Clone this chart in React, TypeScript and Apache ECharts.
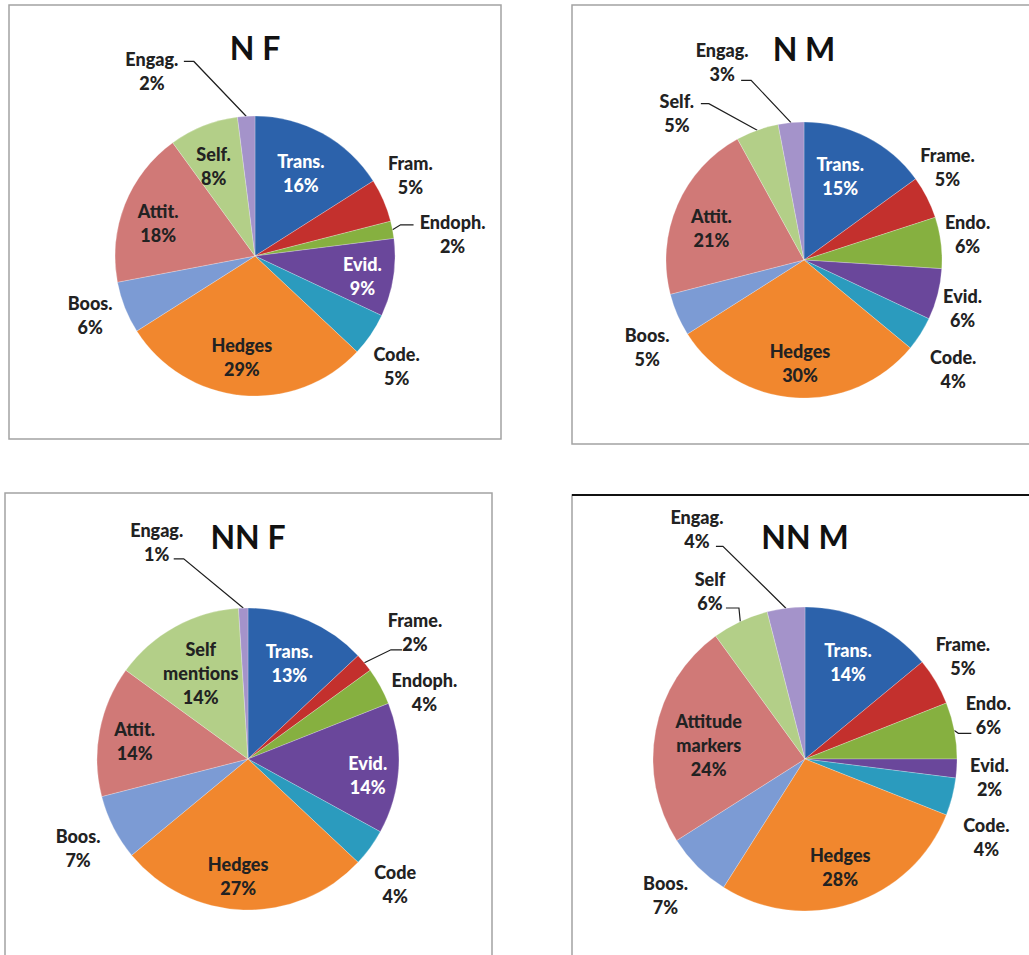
import React, { useEffect, useRef } from "react";
import * as echarts from "echarts";

// ---- Data ----
const titles = ["N F", "N M", "NN F", "NN M"];

const categoriesNF = ["Trans.", "Fram.", "Endoph.", "Evid.", "Code.", "Hedges", "Boos.", "Attit.", "Self.", "Engag."];
const valuesNF = [16, 5, 2, 9, 5, 29, 6, 18, 8, 2];

const categoriesNM = ["Trans.", "Frame.", "Endo.", "Evid.", "Code.", "Hedges", "Boos.", "Attit.", "Self.", "Engag."];
const valuesNM = [15, 5, 6, 6, 4, 30, 5, 21, 5, 3];

const categoriesNNF = ["Trans.", "Frame.", "Endoph.", "Evid.", "Code", "Hedges", "Boos.", "Attit.", "Self\nmentions", "Engag."];
const valuesNNF = [13, 2, 4, 14, 4, 27, 7, 14, 14, 1];

const categoriesNNM = ["Trans.", "Frame.", "Endo.", "Evid.", "Code.", "Hedges", "Boos.", "Attitude\nmarkers", "Self", "Engag."];
const valuesNNM = [14, 5, 6, 2, 4, 28, 7, 24, 6, 4];

// ---- Styles ----
const sliceColors = [
  "#2C62AB", // Trans
  "#C3302D", // Frame
  "#86B040", // Endo
  "#6A479B", // Evid
  "#2B9BBE", // Code
  "#F1872E", // Hedges
  "#7C9BD4", // Boos
  "#D07977", // Attit
  "#B3CF88", // Self
  "#A493CA", // Engag
];

type Place = { pos: "in" | "out" | "line"; rf: number; da: number; white?: boolean; end?: [number, number]; el?: number };

const placeNF: Place[] = [
  { pos: "in", rf: 0.68, da: 0, white: true },
  { pos: "out", rf: 1.25, da: -4 },
  { pos: "line", rf: 1.42, da: 4.4, end: [-39, -9], el: -13 },
  { pos: "in", rf: 0.78, da: 1.5, white: true },
  { pos: "out", rf: 1.28, da: 3.6 },
  { pos: "in", rf: 0.73, da: 2 },
  { pos: "out", rf: 1.25, da: 2 },
  { pos: "in", rf: 0.73, da: -3 },
  { pos: "in", rf: 0.71, da: -3 },
  { pos: "line", rf: 1.51, da: -25.6, end: [32, -10], el: 10 },
];
const placeNM: Place[] = [
  { pos: "in", rf: 0.66, da: -3.6, white: true },
  { pos: "out", rf: 1.24, da: -6 },
  { pos: "out", rf: 1.2, da: -1.8 },
  { pos: "out", rf: 1.2, da: 2.4 },
  { pos: "out", rf: 1.34, da: 3.8 },
  { pos: "in", rf: 0.75, da: -1.4 },
  { pos: "out", rf: 1.3, da: -5.6 },
  { pos: "in", rf: 0.71, da: -4.2 },
  { pos: "line", rf: 1.41, da: -21, end: [24, -9], el: 8 },
  { pos: "line", rf: 1.55, da: -17.1, end: [19, 18], el: 10 },
];
const placeNNF: Place[] = [
  { pos: "in", rf: 0.69, da: 0, white: true },
  { pos: "line", rf: 1.39, da: 2.3, end: [-13, 18], el: -11 },
  { pos: "out", rf: 1.25, da: 8 },
  { pos: "in", rf: 0.8, da: 4, white: true },
  { pos: "out", rf: 1.28, da: 4.4 },
  { pos: "in", rf: 0.78, da: 3 },
  { pos: "out", rf: 1.27, da: -0.6 },
  { pos: "in", rf: 0.76, da: -1.8 },
  { pos: "in", rf: 0.65, da: 0 },
  { pos: "line", rf: 1.56, da: -21, end: [17, 17], el: 10 },
];
const placeNNM: Place[] = [
  { pos: "in", rf: 0.7, da: -1.3, white: true },
  { pos: "out", rf: 1.24, da: -2.5 },
  { pos: "line", rf: 1.24, da: -2.6, end: [-17, 18], el: -13 },
  { pos: "out", rf: 1.22, da: 2 },
  { pos: "out", rf: 1.3, da: 9 },
  { pos: "in", rf: 0.75, da: 0 },
  { pos: "out", rf: 1.28, da: 0.8 },
  { pos: "in", rf: 0.64, da: -2.6 },
  { pos: "line", rf: 1.27, da: -4.3, end: [16, 17], el: 13 },
  { pos: "line", rf: 1.67, da: -18, end: [19, 17], el: 7 },
];

const panels = [
  { cats: categoriesNF, vals: valuesNF, place: placeNF, cx: 255, cy: 256, r: 140, titleY: 47, box: [9, 5, 492, 434] },
  { cats: categoriesNM, vals: valuesNM, place: placeNM, cx: 804, cy: 260, r: 138, titleY: 48, box: [572, 5, 470, 439] },
  { cats: categoriesNNF, vals: valuesNNF, place: placeNNF, cx: 248, cy: 759, r: 151, titleY: 536, box: [5, 493, 487, 480] },
  { cats: categoriesNNM, vals: valuesNNM, place: placeNNM, cx: 805, cy: 759, r: 152, titleY: 536, box: [572, 495, 470, 480] },
];

const FONT = "Lato, 'Open Sans', sans-serif";

function makeLayout(values: number[], place: Place[], cx: number, cy: number, r: number) {
  const total = values.reduce((a, b) => a + b, 0);
  const mids: number[] = [];
  let acc = 0;
  values.forEach((v) => {
    mids.push(((acc + v / 2) / total) * 360);
    acc += v;
  });
  return (params: any) => {
    const i = params.dataIndex;
    const p = place[i];
    const mid = mids[i];
    const a = ((mid + p.da) * Math.PI) / 180;
    const x = cx + p.rf * r * Math.sin(a);
    const y = cy - p.rf * r * Math.cos(a);
    const res: any = { x, y, align: "center", verticalAlign: "middle" };
    if (p.pos === "line" && p.end) {
      const m = (mid * Math.PI) / 180;
      const ex = x + p.end[0];
      const ey = y + p.end[1];
      res.labelLinePoints = [
        [cx + r * Math.sin(m), cy - r * Math.cos(m)],
        [ex + (p.el || 0), ey],
        [ex, ey],
      ];
    }
    return res;
  };
}

export default function App() {
  const ref = useRef<HTMLDivElement>(null);
  useEffect(() => {
    if (!ref.current) return;
    const chart = echarts.init(ref.current, undefined, { renderer: "svg" });

    const series = panels.map((pn) => ({
      type: "pie",
      center: [pn.cx, pn.cy],
      radius: pn.r,
      startAngle: 90,
      clockwise: true,
      avoidLabelOverlap: false,
      silent: true,
      itemStyle: { borderColor: "rgba(255,255,255,0.3)", borderWidth: 0.8 },
      labelLayout: makeLayout(pn.vals, pn.place, pn.cx, pn.cy, pn.r),
      data: pn.vals.map((v, i) => {
        const p = pn.place[i];
        return {
          value: v,
          name: pn.cats[i],
          itemStyle: { color: sliceColors[i] },
          label: {
            show: true,
            position: p.pos === "in" ? "inside" : "outside",
            formatter: "{b}\n{c}%",
            fontFamily: FONT,
            fontWeight: 900,
            fontSize: 18,
            lineHeight: 24,
            color: p.white ? "#FFFFFF" : "#222222",
          },
          labelLine: {
            show: p.pos === "line",
            lineStyle: { color: "#1E1E1E", width: 1.2 },
          },
        };
      }),
    }));

    const graphic: any[] = [];
    panels.forEach((pn, k) => {
      graphic.push({
        type: "rect",
        shape: { x: pn.box[0], y: pn.box[1], width: pn.box[2], height: pn.box[3] },
        style: { fill: "none", stroke: "#A3A3A3", lineWidth: 1.5 },
        silent: true,
      });
      graphic.push({
        type: "text",
        x: pn.cx,
        y: pn.titleY,
        style: {
          text: titles[k],
          fill: "#111111",
          font: `bold 32px ${FONT}`,
          align: "center",
          verticalAlign: "middle",
        },
        silent: true,
      });
    });
    graphic.push({
      type: "line",
      shape: { x1: 572, y1: 495, x2: 1029, y2: 495 },
      style: { stroke: "#111111", lineWidth: 2 },
      silent: true,
    });

    chart.setOption({
      animation: false,
      backgroundColor: "#FFFFFF",
      series,
      graphic,
    });
    return () => chart.dispose();
  }, []);
  return (
    <div
      ref={ref}
      style={{ position: "fixed", left: 0, top: 0, width: 1029, height: 955 }}
    />
  );
}
